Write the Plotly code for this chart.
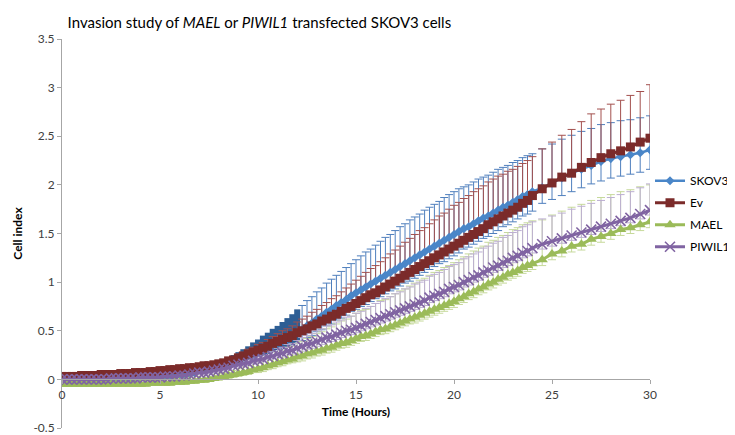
import plotly.graph_objects as go

# sampling grid: every 15 min up to 24 h, then every 30 min
time_h = [i * 0.25 for i in range(97)] + [24.5, 25, 25.5, 26, 26.5, 27, 27.5, 28, 28.5, 29, 29.5, 30]

skov3 = [0.00, 0.00, 0.00, 0.00, 0.00, 0.00, 0.00, 0.00, 0.00, 0.00, 0.01, 0.01,
         0.01, 0.01, 0.01, 0.02, 0.02, 0.02, 0.02, 0.03, 0.03, 0.03, 0.04, 0.04,
         0.05, 0.05, 0.06, 0.07, 0.11, 0.12, 0.13, 0.14, 0.15, 0.16, 0.18, 0.19,
         0.21, 0.23, 0.25, 0.27, 0.29, 0.31, 0.33, 0.36, 0.38, 0.40, 0.42, 0.45,
         0.48, 0.51, 0.55, 0.58, 0.62, 0.65, 0.69, 0.72, 0.76, 0.79, 0.82, 0.86,
         0.89, 0.92, 0.95, 0.98, 1.01, 1.04, 1.07, 1.10, 1.13, 1.16, 1.19, 1.22,
         1.25, 1.28, 1.31, 1.34, 1.37, 1.40, 1.43, 1.46, 1.49, 1.52, 1.55, 1.57,
         1.60, 1.63, 1.66, 1.68, 1.71, 1.74, 1.77, 1.79, 1.82, 1.85, 1.88, 1.90,
         1.93,
         1.97, 2.02, 2.07, 2.12, 2.16, 2.20, 2.24, 2.27, 2.29, 2.31, 2.33, 2.36]
skov3_err_plus = [
         0.02, 0.02, 0.02, 0.02, 0.02, 0.02, 0.02, 0.02, 0.02, 0.02, 0.02, 0.02,
         0.02, 0.02, 0.02, 0.02, 0.02, 0.02, 0.02, 0.02, 0.02, 0.02, 0.02, 0.02,
         0.02, 0.02, 0.02, 0.02, 0.02, 0.02, 0.02, 0.02, 0.02, 0.03, 0.04, 0.06,
         0.07, 0.08, 0.09, 0.11, 0.12, 0.14, 0.15, 0.16, 0.17, 0.19, 0.21, 0.22,
         0.24, 0.25, 0.26, 0.27, 0.28, 0.29, 0.30, 0.31, 0.31, 0.32, 0.33, 0.33,
         0.34, 0.35, 0.36, 0.36, 0.37, 0.38, 0.39, 0.39, 0.40, 0.41, 0.41, 0.42,
         0.42, 0.42, 0.43, 0.43, 0.43, 0.43, 0.44, 0.44, 0.44, 0.44, 0.43, 0.43,
         0.43, 0.43, 0.42, 0.42, 0.42, 0.42, 0.41, 0.41, 0.41, 0.40, 0.40, 0.40,
         0.39,
         0.40, 0.40, 0.40, 0.39, 0.39, 0.38, 0.38, 0.37, 0.37, 0.36, 0.36, 0.35]
skov3_err_minus = [
         0.01, 0.01, 0.01, 0.01, 0.01, 0.01, 0.01, 0.01, 0.01, 0.01, 0.01, 0.01,
         0.01, 0.01, 0.01, 0.01, 0.01, 0.01, 0.01, 0.01, 0.01, 0.01, 0.01, 0.01,
         0.01, 0.01, 0.02, 0.02, 0.02, 0.02, 0.02, 0.02, 0.03, 0.03, 0.03, 0.04,
         0.04, 0.05, 0.05, 0.06, 0.06, 0.07, 0.07, 0.08, 0.08, 0.09, 0.09, 0.10,
         0.10, 0.11, 0.12, 0.13, 0.13, 0.14, 0.14, 0.15, 0.15, 0.16, 0.16, 0.16,
         0.17, 0.17, 0.18, 0.18, 0.18, 0.19, 0.19, 0.19, 0.20, 0.20, 0.20, 0.21,
         0.21, 0.21, 0.21, 0.21, 0.21, 0.21, 0.22, 0.22, 0.22, 0.22, 0.21, 0.21,
         0.21, 0.21, 0.21, 0.21, 0.21, 0.21, 0.20, 0.20, 0.20, 0.20, 0.20, 0.20,
         0.20,
         0.16, 0.17, 0.18, 0.19, 0.19, 0.19, 0.20, 0.20, 0.20, 0.20, 0.20, 0.20]

ev = [0.03, 0.03, 0.03, 0.03, 0.04, 0.04, 0.04, 0.04, 0.05, 0.05, 0.05, 0.05,
      0.06, 0.06, 0.06, 0.07, 0.07, 0.07, 0.08, 0.08, 0.09, 0.09, 0.10, 0.10,
      0.11, 0.11, 0.12, 0.12, 0.13, 0.14, 0.14, 0.15, 0.16, 0.17, 0.19, 0.20,
      0.22, 0.24, 0.26, 0.28, 0.30, 0.32, 0.34, 0.37, 0.39, 0.41, 0.43, 0.45,
      0.48, 0.50, 0.52, 0.55, 0.57, 0.60, 0.62, 0.65, 0.67, 0.70, 0.73, 0.75,
      0.78, 0.81, 0.84, 0.87, 0.89, 0.92, 0.95, 0.98, 1.01, 1.04, 1.07, 1.10,
      1.13, 1.16, 1.19, 1.22, 1.25, 1.28, 1.31, 1.34, 1.37, 1.40, 1.43, 1.46,
      1.49, 1.52, 1.55, 1.59, 1.62, 1.65, 1.68, 1.71, 1.74, 1.77, 1.81, 1.84,
      1.89,
      1.96, 2.02, 2.08, 2.12, 2.18, 2.23, 2.28, 2.32, 2.35, 2.39, 2.44, 2.48]
ev_err_plus = [
      0.02, 0.02, 0.02, 0.02, 0.02, 0.02, 0.02, 0.02, 0.02, 0.02, 0.02, 0.02,
      0.02, 0.02, 0.02, 0.02, 0.02, 0.02, 0.02, 0.02, 0.02, 0.02, 0.02, 0.02,
      0.02, 0.02, 0.02, 0.02, 0.02, 0.02, 0.02, 0.02, 0.02, 0.02, 0.03, 0.03,
      0.04, 0.04, 0.05, 0.05, 0.06, 0.06, 0.07, 0.07, 0.08, 0.09, 0.09, 0.10,
      0.11, 0.12, 0.13, 0.14, 0.15, 0.16, 0.17, 0.18, 0.19, 0.20, 0.21, 0.23,
      0.24, 0.25, 0.26, 0.27, 0.28, 0.29, 0.30, 0.31, 0.32, 0.33, 0.34, 0.35,
      0.36, 0.37, 0.37, 0.38, 0.39, 0.40, 0.40, 0.41, 0.42, 0.42, 0.43, 0.43,
      0.44, 0.44, 0.44, 0.44, 0.44, 0.44, 0.43, 0.43, 0.42, 0.42, 0.41, 0.41,
      0.40,
      0.41, 0.42, 0.43, 0.45, 0.47, 0.50, 0.50, 0.51, 0.52, 0.53, 0.52, 0.55]

mael = [-0.05, -0.05, -0.05, -0.05, -0.05, -0.05, -0.05, -0.05, -0.05, -0.05, -0.05, -0.05,
        -0.05, -0.05, -0.05, -0.05, -0.05, -0.05, -0.04, -0.04, -0.04, -0.04, -0.04, -0.03,
        -0.03, -0.03, -0.02, -0.02, -0.01, -0.01, 0.00, 0.01, 0.02, 0.03, 0.04, 0.05,
        0.06, 0.07, 0.08, 0.10, 0.11, 0.12, 0.14, 0.15, 0.17, 0.18, 0.20, 0.21,
        0.23, 0.24, 0.26, 0.27, 0.29, 0.30, 0.32, 0.33, 0.35, 0.37, 0.38, 0.40,
        0.42, 0.44, 0.45, 0.47, 0.49, 0.51, 0.52, 0.54, 0.56, 0.58, 0.60, 0.62,
        0.64, 0.66, 0.68, 0.70, 0.72, 0.74, 0.76, 0.78, 0.80, 0.83, 0.85, 0.88,
        0.90, 0.93, 0.95, 0.98, 1.00, 1.03, 1.05, 1.08, 1.10, 1.12, 1.15, 1.17,
        1.19,
        1.23, 1.29, 1.32, 1.37, 1.39, 1.44, 1.47, 1.50, 1.54, 1.56, 1.59, 1.62]
mael_err_plus = [
        0.02, 0.02, 0.02, 0.02, 0.02, 0.02, 0.02, 0.02, 0.02, 0.02, 0.02, 0.02,
        0.02, 0.02, 0.02, 0.02, 0.02, 0.02, 0.02, 0.02, 0.02, 0.02, 0.02, 0.02,
        0.02, 0.02, 0.02, 0.02, 0.02, 0.02, 0.02, 0.02, 0.02, 0.03, 0.03, 0.04,
        0.05, 0.06, 0.06, 0.07, 0.08, 0.09, 0.10, 0.10, 0.11, 0.12, 0.13, 0.13,
        0.14, 0.15, 0.16, 0.17, 0.18, 0.19, 0.20, 0.21, 0.22, 0.23, 0.24, 0.25,
        0.26, 0.27, 0.27, 0.28, 0.29, 0.30, 0.30, 0.31, 0.32, 0.33, 0.33, 0.34,
        0.35, 0.36, 0.36, 0.37, 0.38, 0.38, 0.39, 0.39, 0.40, 0.40, 0.41, 0.41,
        0.42, 0.42, 0.42, 0.43, 0.43, 0.43, 0.43, 0.43, 0.44, 0.44, 0.44, 0.44,
        0.44,
        0.41, 0.40, 0.41, 0.40, 0.41, 0.40, 0.40, 0.40, 0.39, 0.39, 0.39, 0.38]
mael_err_minus = [
        0.02, 0.02, 0.02, 0.02, 0.02, 0.02, 0.02, 0.02, 0.02, 0.02, 0.02, 0.02,
        0.02, 0.02, 0.02, 0.02, 0.02, 0.02, 0.02, 0.02, 0.02, 0.02, 0.02, 0.02,
        0.02, 0.02, 0.02, 0.02, 0.02, 0.02, 0.02, 0.02, 0.03, 0.03, 0.03, 0.03,
        0.03, 0.03, 0.03, 0.03, 0.04, 0.04, 0.04, 0.04, 0.04, 0.04, 0.04, 0.04,
        0.05, 0.05, 0.05, 0.05, 0.05, 0.05, 0.05, 0.05, 0.05, 0.05, 0.05, 0.05,
        0.05, 0.05, 0.05, 0.05, 0.05, 0.05, 0.05, 0.05, 0.05, 0.05, 0.05, 0.05,
        0.06, 0.06, 0.06, 0.06, 0.06, 0.06, 0.06, 0.06, 0.06, 0.06, 0.06, 0.06,
        0.06, 0.06, 0.06, 0.06, 0.06, 0.06, 0.06, 0.06, 0.06, 0.06, 0.06, 0.06,
        0.06,
        0.06, 0.06, 0.06, 0.06, 0.06, 0.06, 0.06, 0.06, 0.06, 0.06, 0.06, 0.06]

piwil1 = [0.00, 0.00, 0.00, 0.00, 0.00, 0.00, 0.00, 0.00, 0.00, 0.00, 0.01, 0.01,
          0.01, 0.01, 0.01, 0.01, 0.02, 0.02, 0.02, 0.02, 0.02, 0.03, 0.03, 0.03,
          0.04, 0.04, 0.05, 0.06, 0.07, 0.07, 0.08, 0.09, 0.10, 0.11, 0.12, 0.14,
          0.15, 0.16, 0.17, 0.19, 0.20, 0.21, 0.23, 0.24, 0.26, 0.27, 0.29, 0.30,
          0.32, 0.34, 0.36, 0.37, 0.39, 0.41, 0.43, 0.44, 0.46, 0.48, 0.50, 0.51,
          0.53, 0.55, 0.57, 0.59, 0.61, 0.63, 0.65, 0.67, 0.69, 0.71, 0.73, 0.75,
          0.77, 0.79, 0.81, 0.84, 0.86, 0.88, 0.90, 0.93, 0.95, 0.97, 1.00, 1.02,
          1.05, 1.07, 1.10, 1.12, 1.15, 1.17, 1.20, 1.22, 1.25, 1.27, 1.30, 1.32,
          1.35,
          1.39, 1.42, 1.45, 1.48, 1.51, 1.54, 1.57, 1.60, 1.63, 1.66, 1.70, 1.74]
piwil1_err_plus = [
          0.02, 0.02, 0.02, 0.02, 0.02, 0.02, 0.02, 0.02, 0.02, 0.02, 0.02, 0.02,
          0.02, 0.02, 0.02, 0.02, 0.02, 0.02, 0.02, 0.02, 0.02, 0.02, 0.02, 0.02,
          0.02, 0.02, 0.02, 0.02, 0.02, 0.02, 0.02, 0.02, 0.02, 0.02, 0.02, 0.02,
          0.02, 0.02, 0.03, 0.03, 0.04, 0.04, 0.05, 0.05, 0.06, 0.06, 0.07, 0.07,
          0.08, 0.09, 0.09, 0.10, 0.11, 0.11, 0.12, 0.12, 0.13, 0.13, 0.14, 0.14,
          0.15, 0.15, 0.16, 0.16, 0.17, 0.17, 0.18, 0.18, 0.19, 0.19, 0.20, 0.20,
          0.21, 0.21, 0.21, 0.22, 0.22, 0.22, 0.23, 0.23, 0.23, 0.23, 0.24, 0.24,
          0.24, 0.24, 0.25, 0.25, 0.25, 0.25, 0.26, 0.26, 0.26, 0.26, 0.27, 0.27,
          0.27,
          0.26, 0.26, 0.26, 0.27, 0.27, 0.27, 0.27, 0.27, 0.27, 0.27, 0.27, 0.27]
piwil1_err_minus = [
          0.02, 0.02, 0.02, 0.02, 0.02, 0.02, 0.02, 0.02, 0.02, 0.02, 0.02, 0.02,
          0.02, 0.02, 0.02, 0.02, 0.02, 0.02, 0.02, 0.02, 0.02, 0.02, 0.02, 0.02,
          0.02, 0.02, 0.02, 0.02, 0.02, 0.02, 0.02, 0.02, 0.02, 0.02, 0.02, 0.02,
          0.02, 0.02, 0.03, 0.03, 0.03, 0.03, 0.03, 0.03, 0.04, 0.04, 0.04, 0.04,
          0.05, 0.05, 0.05, 0.05, 0.05, 0.05, 0.05, 0.05, 0.05, 0.05, 0.05, 0.05,
          0.05, 0.05, 0.05, 0.05, 0.05, 0.05, 0.05, 0.05, 0.05, 0.05, 0.05, 0.05,
          0.05, 0.05, 0.05, 0.05, 0.05, 0.05, 0.05, 0.05, 0.05, 0.05, 0.05, 0.05,
          0.05, 0.05, 0.05, 0.05, 0.05, 0.05, 0.05, 0.05, 0.05, 0.05, 0.05, 0.05,
          0.05,
          0.05, 0.05, 0.05, 0.05, 0.05, 0.05, 0.05, 0.05, 0.05, 0.05, 0.05, 0.05]

series_names = ["SKOV3", "Ev", "MAEL", "PIWIL1"]
y_tickvals = [-0.5, 0, 0.5, 1, 1.5, 2, 2.5, 3, 3.5]
y_ticktext = ["-0.5", "0", "0.5", "1", "1.5", "2", "2.5", "3", "3.5"]
x_tickvals = [0, 5, 10, 15, 20, 25, 30]

FONT = "Lato, 'Open Sans', sans-serif"
fig = go.Figure()


def err_trace(x, y, plus, minus, color, thick, width):
    return go.Scatter(
        x=x, y=y, mode="markers",
        marker=dict(size=1, color="rgba(0,0,0,0)"),
        error_y=dict(type="data", symmetric=False, array=plus, arrayminus=minus,
                     color=color, thickness=thick, width=width),
        showlegend=False, hoverinfo="skip")


split = 49  # points up to 12 h are very dense -> solid error region
fig.add_trace(err_trace(time_h[:split], skov3[:split], skov3_err_plus[:split],
                        skov3_err_minus[:split], "#2e5e94", 6, 0))
fig.add_trace(err_trace(time_h[split:], skov3[split:], skov3_err_plus[split:],
                        skov3_err_minus[split:], "#4f7fbd", 1, 4))
fig.add_trace(err_trace(time_h, ev, ev_err_plus, [0] * len(ev), "#a3504e", 1, 4))
fig.add_trace(err_trace(time_h, mael, mael_err_plus, mael_err_minus, "#c6d99b", 1, 4))
fig.add_trace(err_trace(time_h, piwil1, piwil1_err_plus, piwil1_err_minus, "#bcaed2", 1, 4))

styles = [
    (skov3, "#4a86c8", 2.5, dict(symbol="diamond", size=7, color="#4a86c8")),
    (ev, "#7b2b2a", 3, dict(symbol="square", size=9, color="#7b2b2a")),
    (mael, "#9bbb59", 3, dict(symbol="triangle-up", size=10, color="#9bbb59")),
    (piwil1, "#8064a2", 3, dict(symbol="x-thin", size=10, line=dict(width=1.6, color="#8064a2"))),
]
for i, (vals, col, lw, mk) in enumerate(styles):
    fig.add_trace(go.Scatter(
        x=time_h, y=vals, name=series_names[i], mode="lines+markers",
        line=dict(color=col, width=lw), marker=mk,
        legendgroup=series_names[i], hoverinfo="skip"))

fig.update_layout(
    width=735, height=435,
    margin=dict(l=54, r=87, t=31, b=8),
    paper_bgcolor="white", plot_bgcolor="white",
    font=dict(family=FONT, color="#404040", size=11),
    title=dict(text="Invasion study of <i>MAEL</i> or <i>PIWIL1</i> transfected SKOV3 cells",
               x=0.342, xanchor="center", y=0.978, yanchor="top",
               font=dict(family=FONT, size=15, color="#000000")),
    showlegend=True,
    legend=dict(x=1.0, xanchor="left", y=0.673, yanchor="top",
                font=dict(family=FONT, size=12, color="#000000"),
                tracegroupgap=3, bgcolor="rgba(0,0,0,0)"),
    xaxis=dict(range=[0, 30], tickvals=x_tickvals, anchor="free", position=0.125,
               showline=True, linecolor="#a6a6a6", linewidth=1, showgrid=False,
               zeroline=False, ticks="outside", ticklen=4, tickcolor="#a6a6a6",
               tickfont=dict(size=12, color="#404040"),
               title=dict(text="<b>Time (Hours)</b>", standoff=6,
                          font=dict(size=12, color="#000000"))),
    yaxis=dict(range=[-0.5, 3.5], tickvals=y_tickvals, ticktext=y_ticktext,
               showline=True, linecolor="#a6a6a6", linewidth=1, showgrid=False,
               zeroline=False, ticks="outside", ticklen=4, tickcolor="#a6a6a6",
               tickfont=dict(size=12, color="#404040"),
               title=dict(text="<b>Cell index</b>", standoff=8,
                          font=dict(size=12, color="#000000"))),
)

fig.write_html("out.html")
